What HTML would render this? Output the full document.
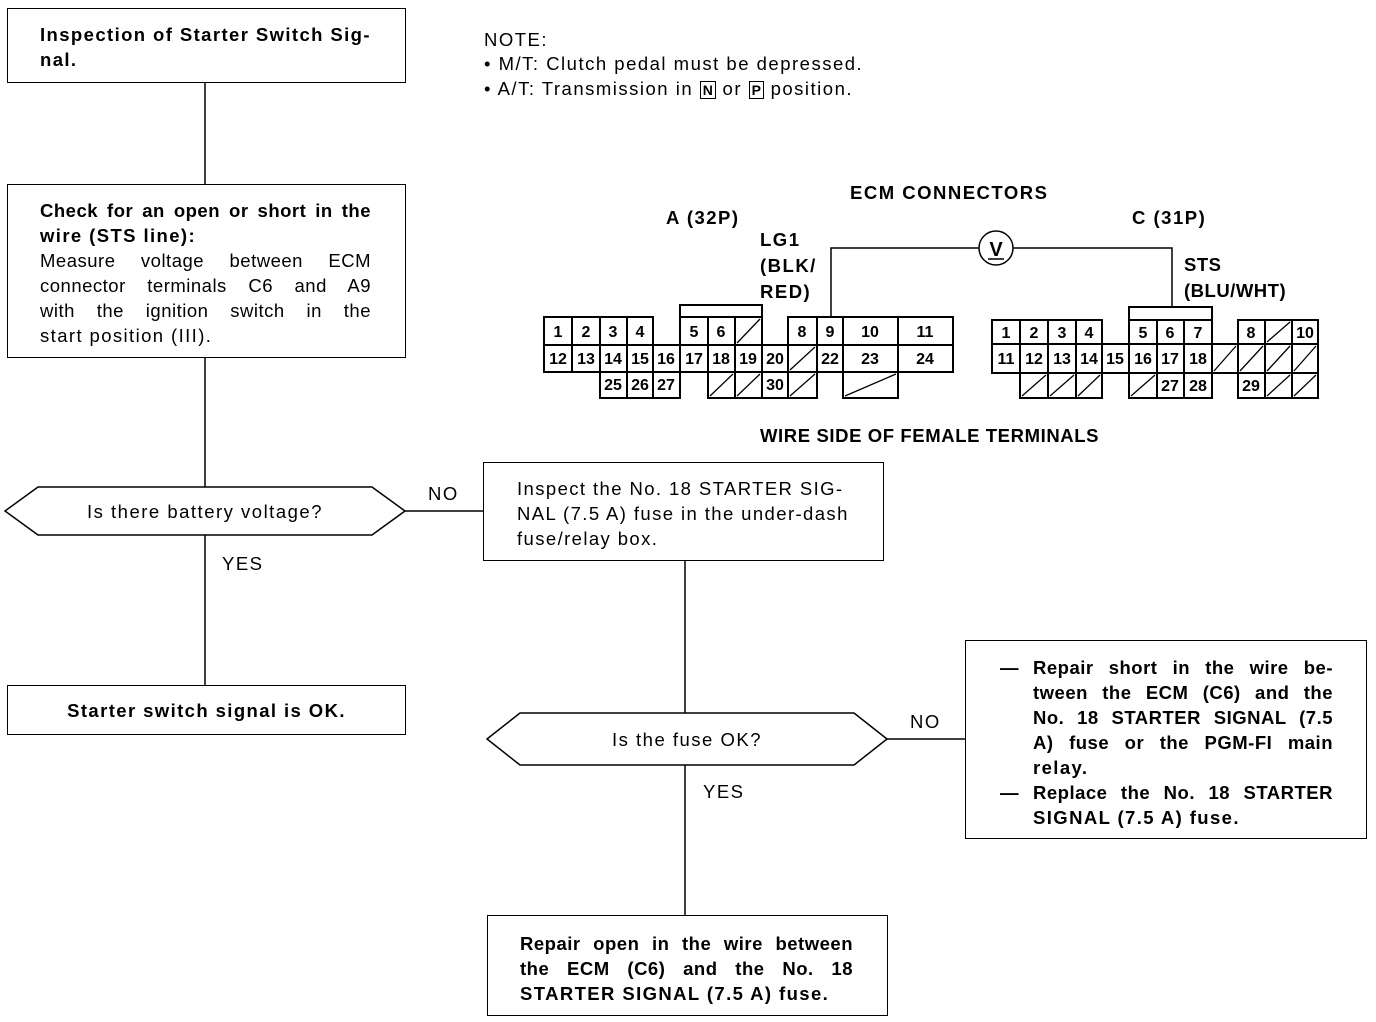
<!DOCTYPE html>
<html><head><meta charset="utf-8"><style>
html,body{margin:0;padding:0;background:#fff;}
body{width:1376px;height:1022px;position:relative;overflow:hidden;font-family:"Liberation Sans",Arial,sans-serif;color:#000;}
.b{position:absolute;border:1.5px solid #000;box-sizing:border-box;background:#fff;font-size:18.5px;line-height:25px;letter-spacing:1.4px;}
.t{position:absolute;font-size:18.5px;line-height:25px;white-space:nowrap;letter-spacing:1.5px;}
.bold{font-weight:bold;}
.j{text-align:justify;text-align-last:justify;white-space:nowrap;letter-spacing:0.5px;}
.l{white-space:nowrap;}
svg{position:absolute;left:0;top:0;}
</style></head><body>
<svg width="1376" height="1022" viewBox="0 0 1376 1022">
<g stroke="#000" stroke-width="1.5" fill="none">
<line x1="205" y1="82" x2="205" y2="184"/>
<line x1="205" y1="357" x2="205" y2="487"/>
<line x1="205" y1="535" x2="205" y2="685"/>
<line x1="405" y1="511" x2="483" y2="511"/>
<line x1="685" y1="560" x2="685" y2="713"/>
<line x1="887" y1="739" x2="965" y2="739"/>
<line x1="685" y1="765" x2="685" y2="915"/>
<polygon points="5,511 38,487 372,487 405,511 372,535 38,535"/>
<polygon points="487,739 520,713 854,713 887,739 854,765 520,765"/>
<polyline points="831,317 831,248 979,248"/>
<polyline points="1013,248 1172,248 1172,307"/>
<circle cx="996" cy="248" r="17"/>
<line x1="988" y1="259" x2="1004" y2="259"/>
</g>
<text x="996" y="256" font-family="Liberation Sans" font-weight="bold" font-size="20" text-anchor="middle">V</text>
<g stroke="#000" stroke-width="2" fill="#fff">
<rect x="680" y="305" width="82" height="12"/>
<rect x="544" y="317" width="28" height="28"/><rect x="572" y="317" width="28" height="28"/><rect x="600" y="317" width="27" height="28"/><rect x="627" y="317" width="26" height="28"/>
<rect x="680" y="317" width="28" height="28"/><rect x="708" y="317" width="27" height="28"/><rect x="735" y="317" width="27" height="28"/>
<rect x="788" y="317" width="29" height="28"/><rect x="817" y="317" width="26" height="28"/><rect x="843" y="317" width="55" height="28"/><rect x="898" y="317" width="55" height="28"/>
<rect x="544" y="345" width="28" height="27"/><rect x="572" y="345" width="28" height="27"/><rect x="600" y="345" width="27" height="27"/><rect x="627" y="345" width="26" height="27"/><rect x="653" y="345" width="27" height="27"/><rect x="680" y="345" width="28" height="27"/><rect x="708" y="345" width="27" height="27"/><rect x="735" y="345" width="27" height="27"/><rect x="762" y="345" width="26" height="27"/><rect x="788" y="345" width="29" height="27"/><rect x="817" y="345" width="26" height="27"/><rect x="843" y="345" width="55" height="27"/><rect x="898" y="345" width="55" height="27"/>
<rect x="600" y="372" width="27" height="26"/><rect x="627" y="372" width="26" height="26"/><rect x="653" y="372" width="27" height="26"/>
<rect x="708" y="372" width="27" height="26"/><rect x="735" y="372" width="27" height="26"/><rect x="762" y="372" width="26" height="26"/><rect x="788" y="372" width="29" height="26"/>
<rect x="843" y="372" width="55" height="26"/>
<rect x="1129" y="307" width="83" height="13"/>
<rect x="992" y="320" width="28" height="24"/><rect x="1020" y="320" width="28" height="24"/><rect x="1048" y="320" width="28" height="24"/><rect x="1076" y="320" width="26" height="24"/>
<rect x="1129" y="320" width="28" height="24"/><rect x="1157" y="320" width="27" height="24"/><rect x="1184" y="320" width="28" height="24"/>
<rect x="1238" y="320" width="27" height="24"/><rect x="1265" y="320" width="27" height="24"/><rect x="1292" y="320" width="26" height="24"/>
<rect x="992" y="344" width="28" height="29"/><rect x="1020" y="344" width="28" height="29"/><rect x="1048" y="344" width="28" height="29"/><rect x="1076" y="344" width="26" height="29"/><rect x="1102" y="344" width="27" height="29"/><rect x="1129" y="344" width="28" height="29"/><rect x="1157" y="344" width="27" height="29"/><rect x="1184" y="344" width="28" height="29"/><rect x="1212" y="344" width="26" height="29"/><rect x="1238" y="344" width="27" height="29"/><rect x="1265" y="344" width="27" height="29"/><rect x="1292" y="344" width="26" height="29"/>
<rect x="1020" y="373" width="28" height="25"/><rect x="1048" y="373" width="28" height="25"/><rect x="1076" y="373" width="26" height="25"/>
<rect x="1129" y="373" width="28" height="25"/><rect x="1157" y="373" width="27" height="25"/><rect x="1184" y="373" width="28" height="25"/>
<rect x="1238" y="373" width="27" height="25"/><rect x="1265" y="373" width="27" height="25"/><rect x="1292" y="373" width="26" height="25"/>
</g>
<g stroke="#000" stroke-width="1.3">
<line x1="737" y1="343" x2="760" y2="319"/>
<line x1="790" y1="370" x2="815" y2="347"/>
<line x1="710" y1="396" x2="733" y2="374"/><line x1="737" y1="396" x2="760" y2="374"/><line x1="790" y1="396" x2="815" y2="374"/>
<line x1="845" y1="396" x2="896" y2="374"/>
<line x1="1267" y1="342" x2="1290" y2="322"/>
<line x1="1214" y1="371" x2="1236" y2="346"/><line x1="1240" y1="371" x2="1263" y2="346"/><line x1="1267" y1="371" x2="1290" y2="346"/><line x1="1294" y1="371" x2="1316" y2="346"/>
<line x1="1022" y1="396" x2="1046" y2="375"/><line x1="1050" y1="396" x2="1074" y2="375"/><line x1="1078" y1="396" x2="1100" y2="375"/>
<line x1="1131" y1="396" x2="1155" y2="375"/>
<line x1="1267" y1="396" x2="1290" y2="375"/><line x1="1294" y1="396" x2="1316" y2="375"/>
</g>
<g font-family="Liberation Sans" font-weight="bold" font-size="16" text-anchor="middle">
<text x="558" y="337">1</text><text x="586" y="337">2</text><text x="613" y="337">3</text><text x="640" y="337">4</text>
<text x="694" y="337">5</text><text x="721" y="337">6</text>
<text x="802" y="337">8</text><text x="830" y="337">9</text><text x="870" y="337">10</text><text x="925" y="337">11</text>
<text x="558" y="364">12</text><text x="586" y="364">13</text><text x="613" y="364">14</text><text x="640" y="364">15</text><text x="666" y="364">16</text><text x="694" y="364">17</text><text x="721" y="364">18</text><text x="748" y="364">19</text><text x="775" y="364">20</text><text x="830" y="364">22</text><text x="870" y="364">23</text><text x="925" y="364">24</text>
<text x="613" y="390">25</text><text x="640" y="390">26</text><text x="666" y="390">27</text><text x="775" y="390">30</text>
<text x="1006" y="338">1</text><text x="1034" y="338">2</text><text x="1062" y="338">3</text><text x="1089" y="338">4</text>
<text x="1143" y="338">5</text><text x="1170" y="338">6</text><text x="1198" y="338">7</text>
<text x="1251" y="338">8</text><text x="1305" y="338">10</text>
<text x="1006" y="364">11</text><text x="1034" y="364">12</text><text x="1062" y="364">13</text><text x="1089" y="364">14</text><text x="1115" y="364">15</text><text x="1143" y="364">16</text><text x="1170" y="364">17</text><text x="1198" y="364">18</text>
<text x="1170" y="391">27</text><text x="1198" y="391">28</text><text x="1251" y="391">29</text>
</g>
</svg>

<div class="b bold" style="left:7px;top:8px;width:399px;height:75px;padding:13px 0 0 32px;">
<div class="l">Inspection of Starter Switch Sig-</div><div class="l">nal.</div></div>
<div class="b" style="left:7px;top:184px;width:399px;height:174px;padding:13px 0 0 32px;">
<div style="width:331px">
<div class="j bold">Check for an open or short in the</div>
<div class="l bold">wire (STS line):</div>
<div class="j">Measure voltage between ECM</div>
<div class="j">connector terminals C6 and A9</div>
<div class="j">with the ignition switch in the</div>
<div class="l">start position (III).</div>
</div></div>
<div class="t" style="left:0;width:410px;top:499px;text-align:center;">Is there battery voltage?</div>
<div class="t" style="left:222px;top:551px;">YES</div>
<div class="t" style="left:428px;top:481px;">NO</div>
<div class="b bold" style="left:7px;top:685px;width:399px;height:50px;padding:12px 0 0 0;text-align:center;">Starter switch signal is OK.</div>
<div class="b" style="left:483px;top:462px;width:401px;height:99px;padding:13px 0 0 33px;">
<div class="l">Inspect the No. 18 STARTER SIG-</div><div class="l">NAL (7.5 A) fuse in the under-dash</div><div class="l">fuse/relay box.</div></div>
<div class="t" style="left:487px;width:400px;top:727px;text-align:center;">Is the fuse OK?</div>
<div class="t" style="left:703px;top:779px;">YES</div>
<div class="t" style="left:910px;top:709px;">NO</div>
<div class="b bold" style="left:965px;top:640px;width:402px;height:199px;padding:14px 0 0 67px;">
<div style="position:absolute;left:34px;top:14px;">—</div>
<div style="position:absolute;left:34px;top:139px;">—</div>
<div style="width:300px">
<div class="j">Repair short in the wire be-</div>
<div class="j">tween the ECM (C6) and the</div>
<div class="j">No. 18 STARTER SIGNAL (7.5</div>
<div class="j">A) fuse or the PGM-FI main</div>
<div class="l">relay.</div>
<div class="j">Replace the No. 18 STARTER</div>
<div class="l">SIGNAL (7.5 A) fuse.</div>
</div></div>
<div class="b bold" style="left:487px;top:915px;width:401px;height:101px;padding:15px 0 0 32px;">
<div style="width:333px">
<div class="j">Repair open in the wire between</div>
<div class="j">the ECM (C6) and the No. 18</div>
<div class="l">STARTER SIGNAL (7.5 A) fuse.</div>
</div></div>

<div class="t" style="left:484px;top:27px;">NOTE:</div>
<div class="t" style="left:484px;top:51px;">• M/T: Clutch pedal must be depressed.</div>
<div class="t" style="left:484px;top:76px;">• A/T: Transmission in <span style="border:1.5px solid #000;font-size:14px;line-height:14px;padding:0 2px;font-weight:bold;letter-spacing:0">N</span> or <span style="border:1.5px solid #000;font-size:14px;line-height:14px;padding:0 2px;font-weight:bold;letter-spacing:0">P</span> position.</div>
<div class="t bold" style="left:850px;top:180px;">ECM CONNECTORS</div>
<div class="t bold" style="left:666px;top:205px;">A (32P)</div>
<div class="t bold" style="left:1132px;top:205px;">C (31P)</div>
<div class="t bold" style="left:760px;top:227px;line-height:26px;">LG1<br>(BLK/<br>RED)</div>
<div class="t bold" style="left:1184px;top:252px;line-height:26px;letter-spacing:0.5px">STS<br>(BLU/WHT)</div>
<div class="t bold" style="left:760px;top:423px;letter-spacing:0.6px">WIRE SIDE OF FEMALE TERMINALS</div>
</body></html>
